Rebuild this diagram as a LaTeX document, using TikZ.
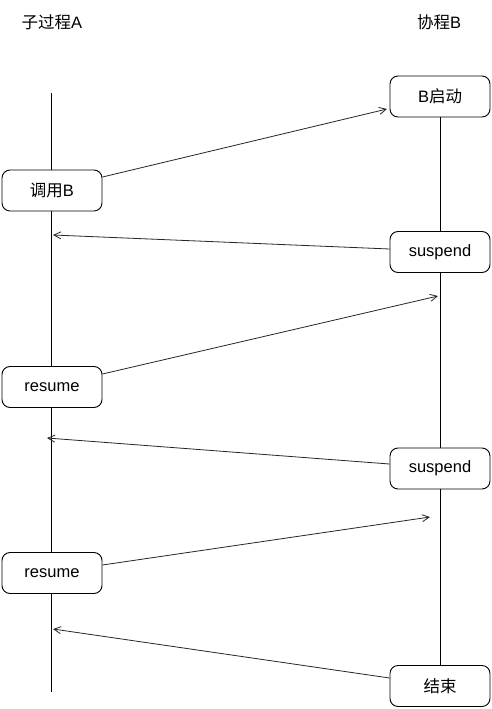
\documentclass[tikz,border=0pt]{standalone}
\usepackage{fontspec}
\setmainfont{Liberation Sans}
\newfontfamily\cjk{Noto Sans CJK SC}
\usetikzlibrary{arrows.meta}
\begin{document}
\begin{tikzpicture}[x=1pt,y=-1pt,
  every node/.style={font=\fontsize{16.5}{19}\selectfont},
  box/.style={draw=black,fill=white,rounded corners=8pt,minimum width=100pt,minimum height=41pt,inner sep=0pt,line width=0.9pt},
  life/.style={line width=0.9pt},
  msg/.style={line width=0.8pt,draw=black!85,-{Straight Barb[length=7pt,width=7pt,line width=0.8pt]}}]
\useasboundingbox[fill=white] (0,0) rectangle (491,709);
% titles
\node (tA) at (52,22) {{\cjk 子过程}A};
\node (tB) at (439,22) {{\cjk 协程}B};
% left lifeline
\coordinate (Atop) at (51,93);
\coordinate (Abot) at (51,692);
\draw[life] (Atop) -- (Abot);
% boxes
\node[box] (bstart) at (440,96.5) {B{\cjk 启动}};
\node[box] (callB) at (52,190.5) {{\cjk 调用}B};
\node[box] (susp1) at (440,252) {suspend};
\node[box] (res1) at (52,387) {resume};
\node[box] (susp2) at (440,468.5) {suspend};
\node[box] (res2) at (52,573) {resume};
\node[box] (bend) at (440,686) {{\cjk 结束}};
% right lifeline
\draw[life] (bstart.south) -- (susp1.north);
\draw[life] (susp1.south) -- (susp2.north);
\draw[life] (susp2.south) -- (bend.north);
% arrow end points
\coordinate (e1) at (387,109);
\coordinate (e2) at (53,235);
\coordinate (e3) at (438,296);
\coordinate (e4) at (47,438);
\coordinate (e5) at (430,517);
\coordinate (e6) at (53,629);
% messages
\draw[msg] ([yshift=13.5pt]callB.east) -- (e1);
\draw[msg] ([yshift=3pt]susp1.west) -- (e2);
\draw[msg] ([yshift=13pt]res1.east) -- (e3);
\draw[msg] ([yshift=4.5pt]susp2.west) -- (e4);
\draw[msg] ([yshift=8pt]res2.east) -- (e5);
\draw[msg] ([yshift=8pt]bend.west) -- (e6);
\end{tikzpicture}
\end{document}
